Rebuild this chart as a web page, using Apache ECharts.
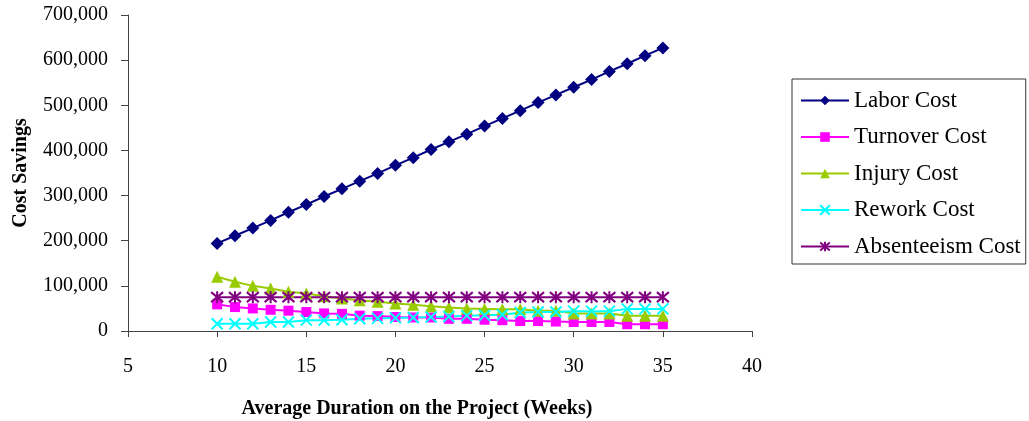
<!DOCTYPE html>
<html>
<head>
<meta charset="utf-8">
<script src="https://cdn.jsdelivr.net/npm/echarts@6/dist/echarts.min.js"></script>
<style>
html,body{margin:0;padding:0;background:#fff;}
#chart{width:1029px;height:421px;}
</style>
</head>
<body>
<div id="chart"></div>
<script>
const weeks = [10,11,12,13,14,15,16,17,18,19,20,21,22,23,24,25,26,27,28,29,30,31,32,33,34,35];
const laborCost = [194000,211000,228000,245000,263000,280000,298000,315000,332000,349000,367000,384000,402000,419000,436000,454000,471000,488000,506000,523000,540000,557000,575000,592000,610000,627000];
const turnoverCost = [59000,53000,50000,47000,45000,42000,39000,38000,34000,33000,31000,30000,30000,27000,27000,25000,24000,22000,22000,21000,20000,20000,20000,15000,15000,15000];
const injuryCost = [120000,109000,100000,94000,87000,83000,77000,72000,68000,65000,61000,58000,55000,52000,50000,49000,48000,48000,45000,45000,39000,39000,39000,34000,34000,34000];
const reworkCost = [16000,16000,16000,20000,20000,24000,24000,25000,27000,28000,29000,30000,31000,32000,34000,35000,36000,41000,42000,42000,44000,44000,44000,49000,49000,49000];
const absenteeismCost = [75000,75000,75000,75000,75000,75000,75000,75000,75000,75000,75000,75000,75000,75000,75000,75000,75000,75000,75000,75000,75000,75000,75000,75000,75000,75000];
const seriesNames = ['Labor Cost','Turnover Cost','Injury Cost','Rework Cost','Absenteeism Cost'];

const FONT = '"Liberation Serif", "Times New Roman", serif';
function pairs(vals){ return weeks.map((w,i)=>[w, vals[i]]); }
function mk(name, vals, color, symbol, size, stroke){
  return {
    name, type:'line', data: pairs(vals), symbol, symbolSize: size,
    lineStyle:{color, width:2},
    itemStyle: stroke ? {color:'none', borderColor:color, borderWidth:2} : {color, borderColor:color, borderWidth:0},
    emphasis:{disabled:true}, animation:false
  };
}
const chart = echarts.init(document.getElementById('chart'), null, {renderer:'canvas'});
chart.setOption({
  backgroundColor:'#fff',
  animation:false,
  grid:{left:128, right:277, top:15, bottom:90, containLabel:false, outerBoundsMode:'none'},
  legend:{
    orient:'vertical', left:792, top:79,
    padding:[10,5,6,8], itemGap:13.5, itemWidth:48, itemHeight:12,
    borderColor:'#333', borderWidth:1,
    textStyle:{fontFamily:FONT, fontSize:23, color:'#000', padding:[0,0,0,0]},
    data: seriesNames
  },
  xAxis:{
    type:'value', min:5, max:40, interval:5,
    name:'Average Duration on the Project (Weeks)', nameLocation:'middle', nameGap:68,
    nameTextStyle:{fontFamily:FONT, fontSize:20, fontWeight:'bold', color:'#000', padding:[0,46,0,0]},
    axisLine:{show:true, onZero:false, lineStyle:{color:'#444', width:1}},
    axisTick:{show:true, inside:false, length:6, lineStyle:{color:'#444'}},
    axisLabel:{fontFamily:FONT, fontSize:20, color:'#000', margin:26},
    splitLine:{show:false}
  },
  yAxis:{
    type:'value', min:0, max:700000, interval:100000,
    name:'Cost Savings', nameLocation:'middle', nameGap:97, nameRotate:90,
    nameTextStyle:{fontFamily:FONT, fontSize:20, fontWeight:'bold', color:'#000'},
    axisLine:{show:true, lineStyle:{color:'#444', width:1}},
    axisTick:{show:true, inside:false, length:7, lineStyle:{color:'#444'}},
    axisLabel:{fontFamily:FONT, fontSize:20, color:'#000', margin:20,
      formatter:v=>v.toLocaleString('en-US')},
    splitLine:{show:false}
  },
  series:[
    mk('Labor Cost', laborCost, '#000080', 'diamond', 13, false),
    mk('Turnover Cost', turnoverCost, '#FF00FF', 'rect', 10, false),
    mk('Injury Cost', injuryCost, '#99CC00', 'triangle', 12, false),
    mk('Rework Cost', reworkCost, '#00FFFF', 'path://M0,0L10,10M10,0L0,10', 11, true),
    mk('Absenteeism Cost', absenteeismCost, '#800080', 'path://M0,0L10,10M10,0L0,10M5,-1L5,11', 12, true)
  ]
});
</script>
</body>
</html>
